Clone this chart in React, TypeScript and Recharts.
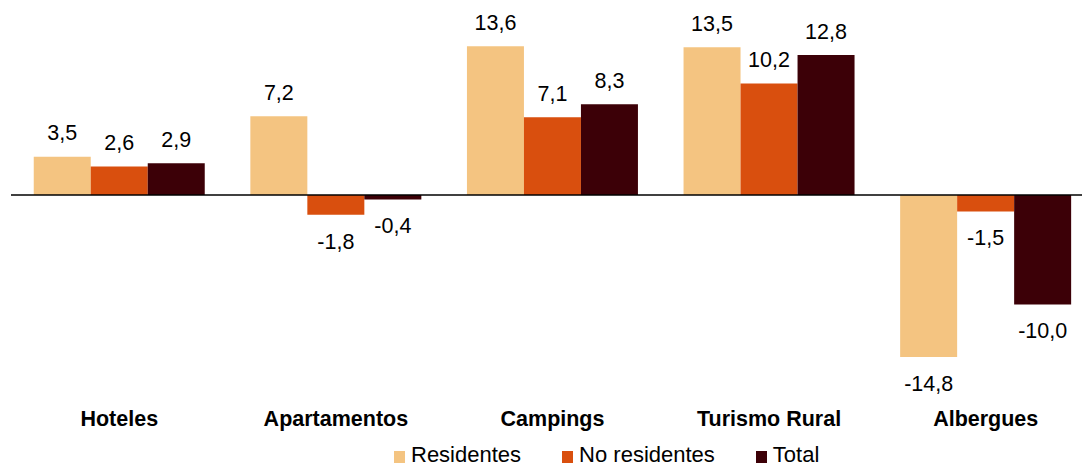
import React from 'react';
import { BarChart, Bar, XAxis, YAxis, ReferenceLine, Legend, LabelList } from 'recharts';

const CATEGORIES = ['Hoteles', 'Apartamentos', 'Campings', 'Turismo Rural', 'Albergues'];
const RESIDENTES = [3.5, 7.2, 13.6, 13.5, -14.8];
const NO_RESIDENTES = [2.6, -1.8, 7.1, 10.2, -1.5];
const TOTAL = [2.9, -0.4, 8.3, 12.8, -10.0];

const SERIES = [
  { key: 'residentes', name: 'Residentes', color: '#F4C481' },
  { key: 'noResidentes', name: 'No residentes', color: '#D94F0E' },
  { key: 'total', name: 'Total', color: '#3C0007' },
];

const data = CATEGORIES.map((cat, i) => ({
  cat,
  residentes: RESIDENTES[i],
  noResidentes: NO_RESIDENTES[i],
  total: TOTAL[i],
}));

const FONT = '"Liberation Sans", Arial, sans-serif';

const fmt = (v: number) => v.toFixed(1).replace('.', ',');

// labels sit above positive bars and below negative ones
const ValueLabel = (props: any) => {
  const { x, y, width, height, value } = props;
  if (value == null) return null;
  const top = Math.min(y, y + height);
  const bottom = Math.max(y, y + height);
  const ty = value >= 0 ? top - 16.5 : bottom + 34;
  return (
    <text x={x + width / 2} y={ty} textAnchor="middle" fontSize={21.5} fontFamily={FONT} fill="#000">
      {fmt(value)}
    </text>
  );
};

const CategoryTick = (props: any) => {
  const { x, y, payload } = props;
  return (
    <text
      x={x}
      y={y + 55.5}
      textAnchor="middle"
      fontSize={21.5}
      fontWeight="bold"
      fontFamily={FONT}
      fill="#000"
    >
      {payload.value}
    </text>
  );
};

const LegendContent = () => (
  <div
    style={{
      display: 'flex',
      alignItems: 'center',
      height: 24,
      paddingTop: 7,
      paddingLeft: 394,
      fontFamily: FONT,
      fontSize: 22,
      color: '#000',
    }}
  >
    {SERIES.map((s) => (
      <div key={s.key} style={{ display: 'flex', alignItems: 'center', marginRight: 41 }}>
        <span
          style={{
            display: 'inline-block',
            width: 11,
            height: 12,
            background: s.color,
            marginRight: 6,
            marginTop: 4,
          }}
        />
        <span style={{ lineHeight: '24px' }}>{s.name}</span>
      </div>
    ))}
  </div>
);

export default function App() {
  return (
    <div
      style={{
        position: 'absolute',
        left: 0,
        top: 0,
        width: 1082,
        height: 467,
        overflow: 'hidden',
        background: '#fff',
      }}
    >
      <BarChart
        width={1094}
        height={467}
        data={data}
        margin={{ top: 20, right: 0, bottom: 0, left: 11 }}
        barCategoryGap="10.5%"
        barGap={0}
      >
        <XAxis
          dataKey="cat"
          axisLine={false}
          tickLine={false}
          tickSize={0}
          tickMargin={0}
          height={66}
          interval={0}
          tick={<CategoryTick />}
        />
        <YAxis hide domain={[-16, 16]} />
        {SERIES.map((s) => (
          <Bar key={s.key} dataKey={s.key} name={s.name} fill={s.color} isAnimationActive={false}>
            <LabelList dataKey={s.key} content={<ValueLabel />} />
          </Bar>
        ))}
        <ReferenceLine y={0} stroke="#000" strokeWidth={1.5} />
        <Legend verticalAlign="bottom" content={<LegendContent />} wrapperStyle={{ left: 0, width: 1094 }} />
      </BarChart>
    </div>
  );
}
